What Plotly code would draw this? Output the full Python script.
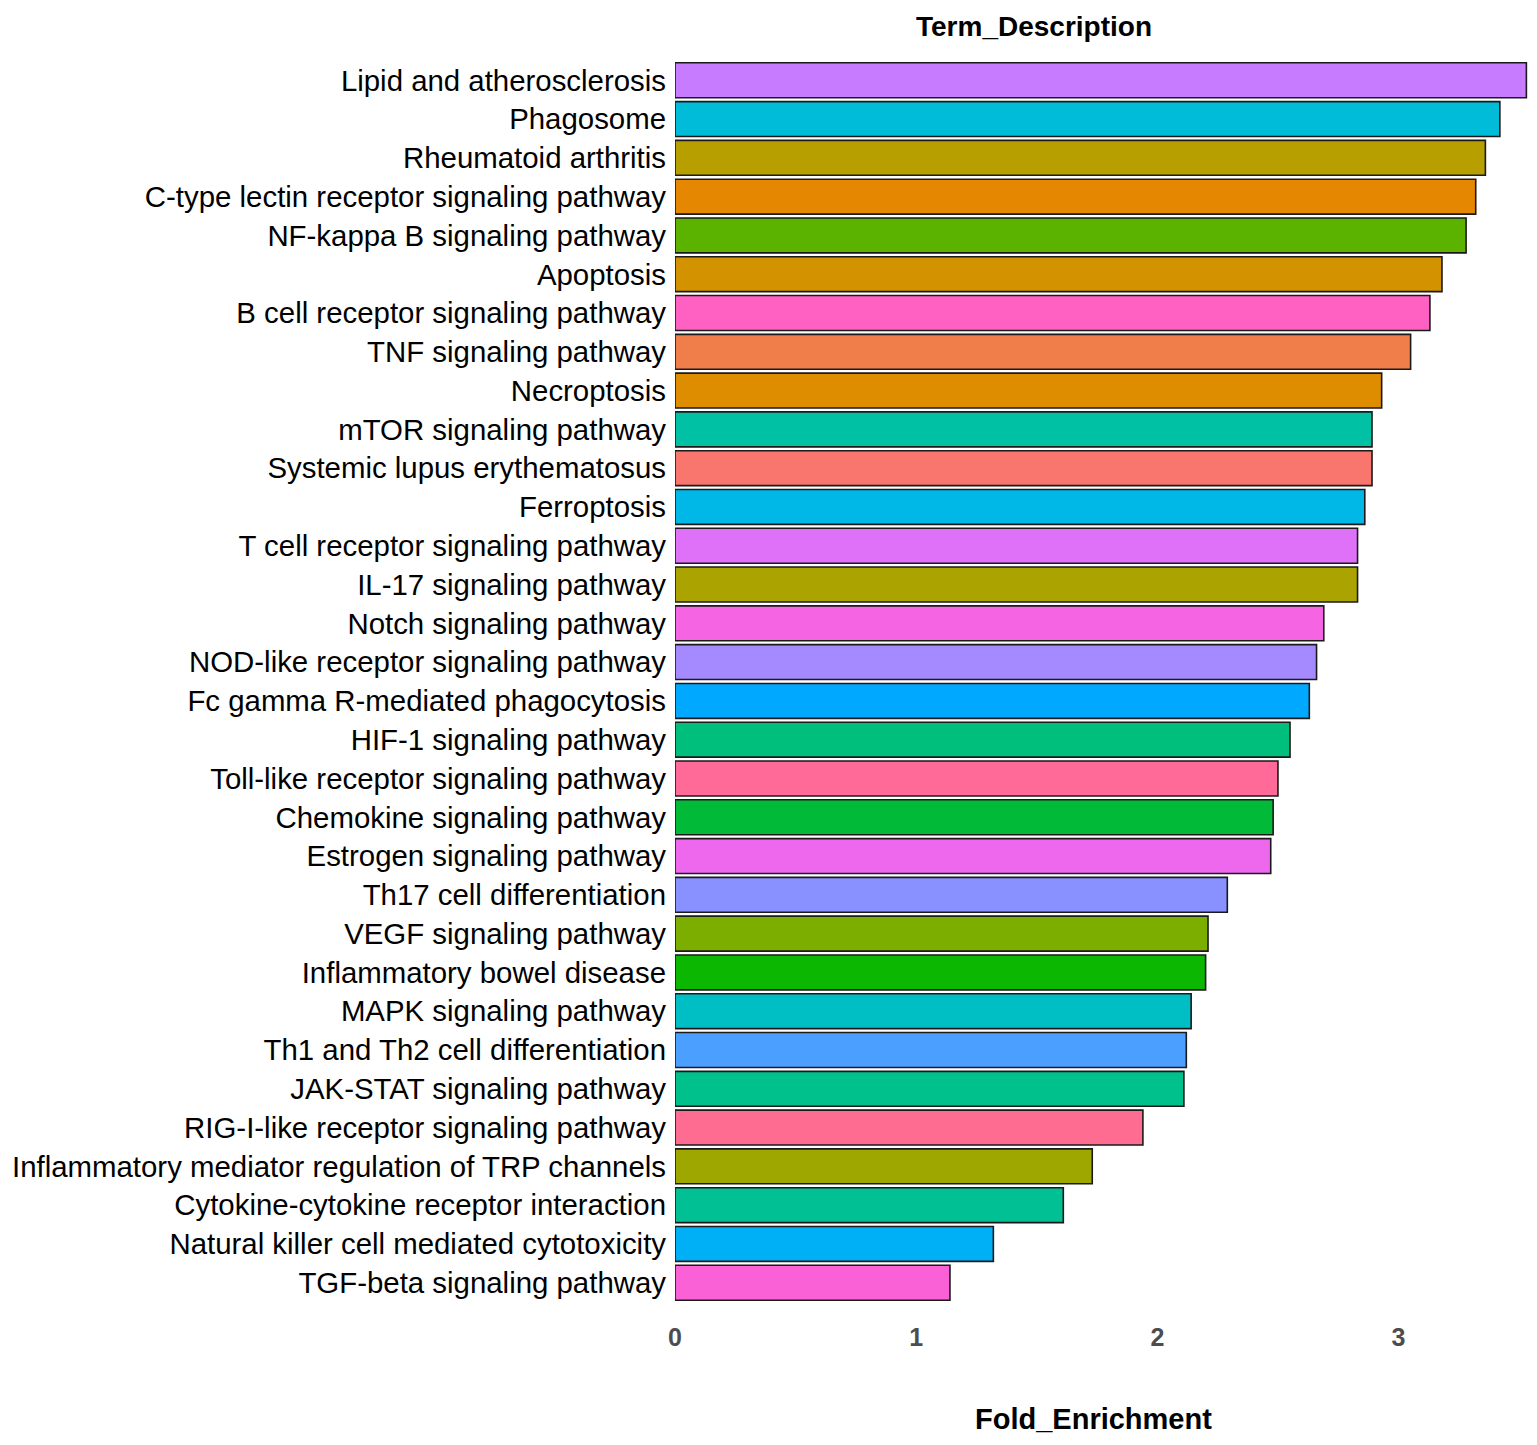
import plotly.graph_objects as go

# pathways, top to bottom as drawn
terms = [
    "Lipid and atherosclerosis",
    "Phagosome",
    "Rheumatoid arthritis",
    "C-type lectin receptor signaling pathway",
    "NF-kappa B signaling pathway",
    "Apoptosis",
    "B cell receptor signaling pathway",
    "TNF signaling pathway",
    "Necroptosis",
    "mTOR signaling pathway",
    "Systemic lupus erythematosus",
    "Ferroptosis",
    "T cell receptor signaling pathway",
    "IL-17 signaling pathway",
    "Notch signaling pathway",
    "NOD-like receptor signaling pathway",
    "Fc gamma R-mediated phagocytosis",
    "HIF-1 signaling pathway",
    "Toll-like receptor signaling pathway",
    "Chemokine signaling pathway",
    "Estrogen signaling pathway",
    "Th17 cell differentiation",
    "VEGF signaling pathway",
    "Inflammatory bowel disease",
    "MAPK signaling pathway",
    "Th1 and Th2 cell differentiation",
    "JAK-STAT signaling pathway",
    "RIG-I-like receptor signaling pathway",
    "Inflammatory mediator regulation of TRP channels",
    "Cytokine-cytokine receptor interaction",
    "Natural killer cell mediated cytotoxicity",
    "TGF-beta signaling pathway",
]

fold_enrichment = [
    3.53, 3.42, 3.36, 3.32, 3.28, 3.18, 3.13, 3.05,
    2.93, 2.89, 2.89, 2.86, 2.83, 2.83, 2.69, 2.66,
    2.63, 2.55, 2.50, 2.48, 2.47, 2.29, 2.21, 2.20,
    2.14, 2.12, 2.11, 1.94, 1.73, 1.61, 1.32, 1.14,
]

bar_colors = [
    "#C77CFF", "#00BCD8", "#B79F00", "#E58700", "#5BB300", "#D39200",
    "#FF61C3", "#F07E4A", "#DE8C00", "#00C1A3", "#F8766D", "#00B8E7",
    "#DF70F8", "#ABA300", "#F564E3", "#A58AFF", "#00A9FF", "#00BF7D",
    "#FF6A98", "#00BA38", "#ED68ED", "#8891FF", "#7CAE00", "#0CB702",
    "#00BFC4", "#4B9FFF", "#00C08B", "#FF6C91", "#9DA700", "#00C094",
    "#00B0F6", "#FB61D7",
]

x_ticks = [0, 1, 2, 3]

FONT = "Liberation Sans, Arial, sans-serif"

fig = go.Figure()
fig.add_trace(go.Bar(
    x=fold_enrichment,
    y=terms,
    orientation="h",
    width=0.9,
    marker=dict(color=bar_colors, line=dict(color="#1a1a1a", width=1.6)),
    showlegend=False,
))

# page has an 8px body margin, so the figure box starts at (8, 8)
ml, mr, mt, mb = 667, 15, 49, 147
pw = 1537 - ml - mr
ph = 1445 - mt - mb

fig.update_layout(
    width=1537,
    height=1445,
    plot_bgcolor="white",
    paper_bgcolor="white",
    margin=dict(l=ml, r=mr, t=mt, b=mb, autoexpand=False),
    font=dict(family=FONT, color="black"),
    annotations=[
        # y-axis title sits above the plot, as in the ggplot original
        dict(text="<b>Term_Description</b>",
             x=(1026 - ml) / pw, y=1 + (mt - 1) / ph,
             xref="paper", yref="paper", xanchor="center", yanchor="top",
             showarrow=False, font=dict(size=28, color="black")),
        dict(text="<b>Fold_Enrichment</b>",
             x=(1085 - ml) / pw, y=-(1411 - (1445 - mb)) / ph,
             xref="paper", yref="paper", xanchor="center", yanchor="middle",
             showarrow=False, font=dict(size=29, color="black")),
    ],
)

fig.update_xaxes(
    range=[0, 3.545],
    tickvals=x_ticks,
    ticktext=["<b>%d</b>" % t for t in x_ticks],
    ticks="",
    ticklabelstandoff=14,
    showgrid=False,
    zeroline=False,
    showline=False,
    automargin=False,
    tickfont=dict(size=25, color="#4D4D4D", family=FONT),
)
fig.update_yaxes(
    categoryorder="array",
    categoryarray=terms[::-1],
    range=[-0.6, len(terms) - 0.4],
    ticks="",
    ticklabelstandoff=8,
    showgrid=False,
    zeroline=False,
    showline=False,
    automargin=False,
    tickfont=dict(size=29.4, color="black"),
)

fig.write_html("out.html")
